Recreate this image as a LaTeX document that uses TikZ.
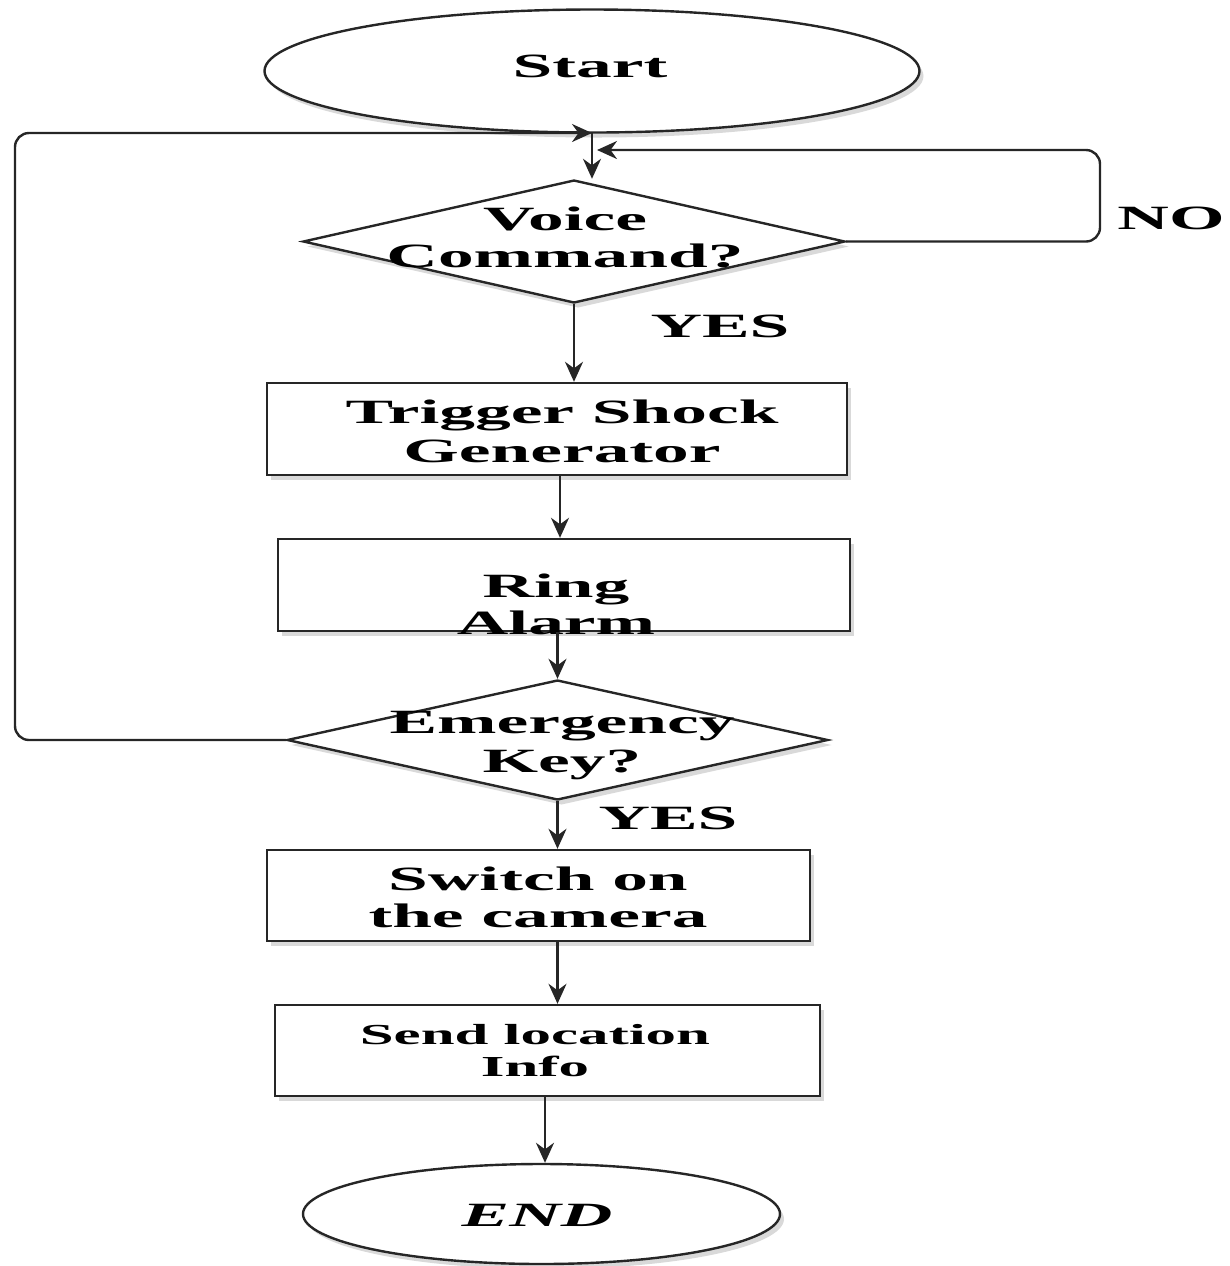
\documentclass[tikz,border=0pt]{standalone}
\usepackage{fontspec}
\setmainfont{Liberation Serif}[FakeStretch=2.1]
\usetikzlibrary{shapes.geometric,arrows.meta,shadows}
\tikzset{
  line/.style={draw=black!85, line width=1.2pt},
  arr/.style={line, -{Stealth[length=10pt,width=9pt]}},
  shade/.style={drop shadow={shadow xshift=2pt, shadow yshift=-2.5pt, opacity=0.15, fill=black}},
  box/.style={line, fill=white, rectangle, inner sep=0pt, shade},
  term/.style={line, fill=white, ellipse, inner sep=0pt, shade},
  dec/.style={line, fill=white, diamond, inner sep=0pt, shade},
  txt/.style={font=\bfseries\fontsize{17}{18.5}\selectfont, align=center, inner sep=0pt},
  wide/.style={font=\bfseries\fontsize{17}{19.5}\selectfont},
}
\begin{document}
\begin{tikzpicture}[x=0.5pt,y=-0.5pt]
\useasboundingbox (0,0) rectangle (1230,1266);
% shapes
\node[term, minimum width=327.5pt, minimum height=61.5pt] (start) at (592,71) {};
\node[dec, minimum width=271pt, minimum height=61.5pt] (vc) at (574,241.5) {};
\node[box, minimum width=290pt, minimum height=46pt] (trig) at (557,429) {};
\node[box, minimum width=286pt, minimum height=46pt] (ring) at (564,585) {};
\node[dec, minimum width=270.5pt, minimum height=60pt] (em) at (557.5,740) {};
\node[box, minimum width=271.5pt, minimum height=45.5pt] (sw) at (538.5,895.5) {};
\node[box, minimum width=272.5pt, minimum height=45.5pt] (snd) at (547.5,1050.5) {};
\node[term, minimum width=238.5pt, minimum height=50pt] (end) at (541.5,1214) {};
% texts
\node[txt] (starttxt) at (590,66) {Start};
\node[txt] (vctxt) at (565,237) {Voice\\Command?};
\node[txt, wide] (trigtxt) at (562,431) {Trigger Shock\\Generator};
\node[txt] (ringtxt) at (556,604) {Ring\\Alarm};
\node[txt, wide] (emtxt) at (562,746) {Emergency\\Key?};
\node[txt] (swtxt) at (538,897) {Switch on\\the camera};
\node[txt, font=\bfseries\fontsize{14.5}{16}\selectfont] (sndtxt) at (535,1051) {Send location\\Info};
\node[txt, font=\bfseries\itshape\fontsize{17}{18}\selectfont] (endtxt) at (537,1215) {END};
\node[txt] (yes1) at (720,326) {YES};
\node[txt] (yes2) at (668,818) {YES};
\node[txt] (no) at (1171,218) {NO};
% connectors
\coordinate (j1) at (592,133);
\coordinate (j2) at (597,150);
\coordinate (lft) at (15,133);
\coordinate (rgt) at (1100,150);
\draw[arr, rounded corners=7pt] (em.west) -| (lft) -- (j1);
\draw[arr] (j1) -- (j1 |- vc.north);
\draw[arr, rounded corners=7pt] (vc.east) -| (rgt) -- (j2);
\draw[arr] (vc.south) -- (vc.south |- trig.north);
\draw[arr] (560,0 |- trig.south) -- (560,0 |- ring.north);
\draw[arr] (em.north |- ring.south) -- (em.north);
\draw[arr] (em.south) -- (em.south |- sw.north);
\draw[arr] (em.south |- sw.south) -- (em.south |- snd.north);
\draw[arr] (545,0 |- snd.south) -- (545,0 |- end.north);
\end{tikzpicture}
\end{document}
